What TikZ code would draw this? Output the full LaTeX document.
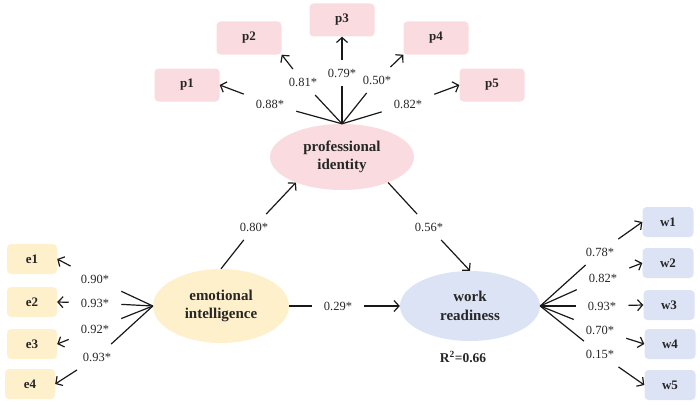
\documentclass[tikz,border=0pt]{standalone}
\usepackage{fontspec}
\setmainfont{Liberation Serif}
\usetikzlibrary{arrows.meta,shapes.geometric}
\definecolor{pinkf}{HTML}{FADBDF}
\definecolor{yelf}{HTML}{FFF0CC}
\definecolor{bluef}{HTML}{DCE3F4}
\definecolor{txt}{HTML}{262626}
\begin{document}
\begin{tikzpicture}[x=1pt,y=-1pt,
  lat/.style={ellipse, inner sep=0pt, align=center, font=\fontsize{15}{18.5}\selectfont\bfseries, text=txt},
  ind/.style={rectangle, rounded corners=4pt, inner sep=0pt, font=\fontsize{13}{15}\selectfont\bfseries, text=txt},
  pbox/.style={ind, fill=pinkf, minimum width=65pt, minimum height=33pt},
  ebox/.style={ind, fill=yelf, minimum width=50pt, minimum height=30pt},
  wbox/.style={ind, fill=bluef, minimum width=51pt, minimum height=30pt},
  lab/.style={inner xsep=12pt, inner ysep=8.5pt, font=\fontsize{12.5}{14}\selectfont, text=txt},
  con/.style={line width=1.2pt, draw=black!90},
  arr/.style={con, -{Straight Barb[length=5pt,width=11pt,line width=1.2pt]}}
]
\useasboundingbox (0,0) rectangle (700,404);

% latent variables
\node[lat, fill=pinkf, minimum width=144pt, minimum height=66pt] (PI) at (342,157) {professional\\identity};
\node[lat, fill=yelf, minimum width=136pt, minimum height=74pt] (EI) at (221,306) {emotional\\intelligence};
\node[lat, fill=bluef, minimum width=140pt, minimum height=70pt] (WR) at (470,306) {work\\readiness};
\node[font=\fontsize{13.5}{15}\selectfont\bfseries, text=txt] (R2) at (463,357) {R\textsuperscript{2}=0.66};

% indicators
\node[pbox] (p1) at (187,85) {p1};
\node[pbox] (p2) at (249,38) {p2};
\node[pbox] (p3) at (342,20) {p3};
\node[pbox] (p4) at (436,38) {p4};
\node[pbox] (p5) at (492,85) {p5};

\node[ebox] (e1) at (32,259) {e1};
\node[ebox] (e2) at (32,302) {e2};
\node[ebox] (e3) at (32,344) {e3};
\node[ebox] (e4) at (30,384) {e4};

\node[wbox] (w1) at (668,222) {w1};
\node[wbox] (w2) at (668,263) {w2};
\node[wbox] (w3) at (669,305) {w3};
\node[wbox] (w4) at (670,344) {w4};
\node[wbox] (w5) at (670,385) {w5};

% labels
\node[lab] (lp1) at (270,104) {0.88*};
\node[lab] (lp2) at (303,82) {0.81*};
\node[lab] (lp3) at (342,73) {0.79*};
\node[lab] (lp4) at (377,80) {0.50*};
\node[lab] (lp5) at (408,104) {0.82*};

\node[lab] (le1) at (95,279) {0.90*};
\node[lab] (le2) at (95,303) {0.93*};
\node[lab] (le3) at (95,329) {0.92*};
\node[lab] (le4) at (97,357) {0.93*};

\node[lab] (lw1) at (600,252) {0.78*};
\node[lab] (lw2) at (603,278) {0.82*};
\node[lab] (lw3) at (602,306) {0.93*};
\node[lab] (lw4) at (600,330) {0.70*};
\node[lab] (lw5) at (600,354) {0.15*};

\node[lab] (l80) at (254,227) {0.80*};
\node[lab] (l56) at (429,227) {0.56*};
\node[lab] (l29) at (338,306) {0.29*};

% professional identity loadings
\draw[con] (PI.north) -- (lp1); \draw[arr] (lp1) -- (p1.east);
\draw[con] (PI.north) -- (lp2); \draw[arr] (lp2) -- (p2.south east);
\draw[con] (PI.north) -- (lp3); \draw[arr] (lp3) -- (p3.south);
\draw[con] (PI.north) -- (lp4); \draw[arr] (lp4) -- (p4.south west);
\draw[con] (PI.north) -- (lp5); \draw[arr] (lp5) -- (p5.west);

% emotional intelligence loadings
\draw[con] (EI.west) -- (le1); \draw[arr] (le1) -- (e1.east);
\draw[con] (EI.west) -- (le2); \draw[arr] (le2) -- (e2.east);
\draw[con] (EI.west) -- (le3); \draw[arr] (le3) -- (e3.east);
\draw[con] (EI.west) -- (le4); \draw[arr] (le4) -- (e4.east);

% work readiness loadings
\draw[con] (WR.east) -- (lw1); \draw[arr] (lw1) -- (w1.west);
\draw[con] (WR.east) -- (lw2); \draw[arr] (lw2) -- (w2.west);
\draw[con] (WR.east) -- (lw3); \draw[arr] (lw3) -- (w3.west);
\draw[con] (WR.east) -- (lw4); \draw[arr] (lw4) -- (w4.west);
\draw[con] (WR.east) -- (lw5); \draw[arr] (lw5) -- (w5.west);

% structural paths
\draw[con] (EI.north) -- (l80); \draw[arr] (l80) -- (PI.209);
\draw[con] (PI.331) -- (l56); \draw[arr] (l56) -- (WR.north);
\draw[con] (EI.east) -- (l29); \draw[arr] (l29) -- (WR.west);
\end{tikzpicture}
\end{document}
